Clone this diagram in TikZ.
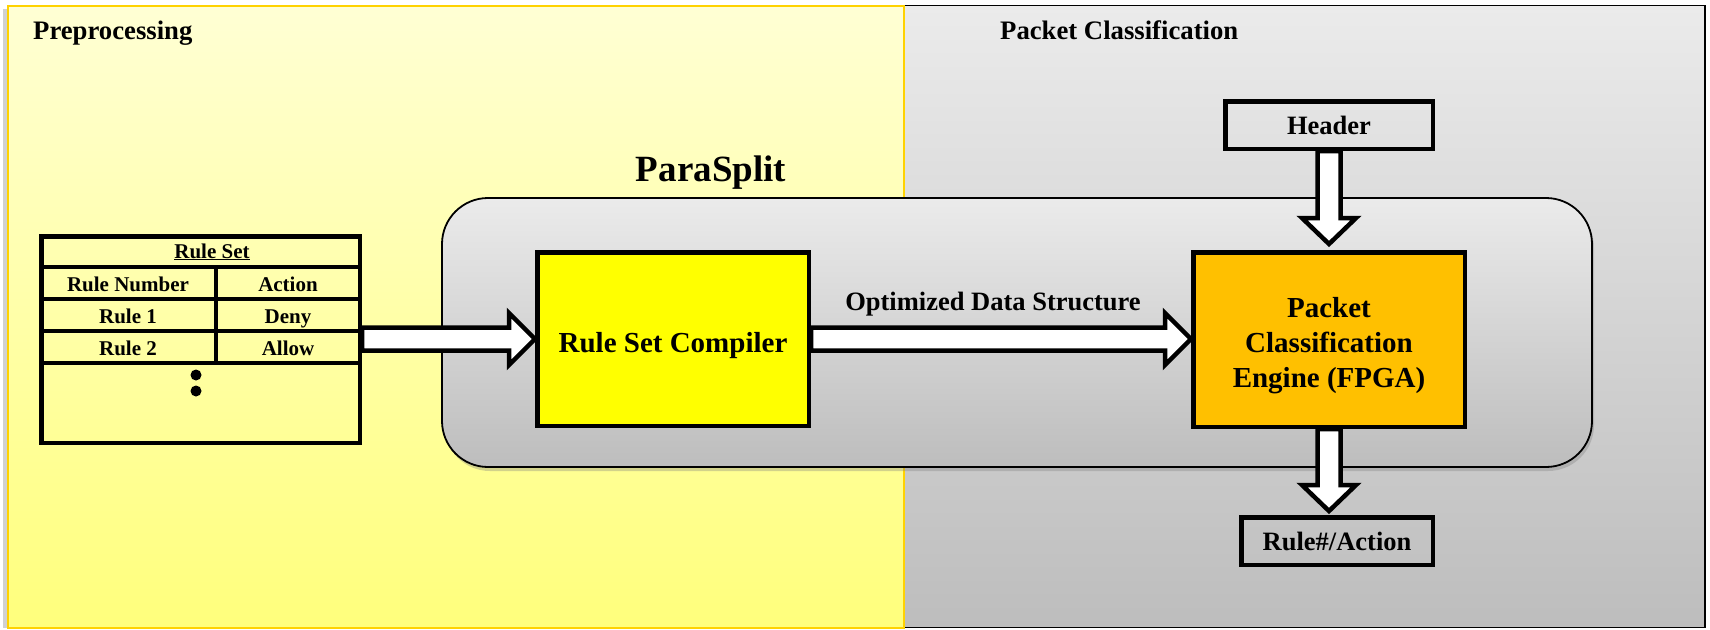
\documentclass[tikz,border=0pt]{standalone}
\usepackage{fontspec}
\setmainfont{Liberation Serif}
\usetikzlibrary{calc,shadows}
\definecolor{ytop}{HTML}{FFFFD4}
\definecolor{ybot}{HTML}{FFFF7C}
\definecolor{gtop}{HTML}{EBEBEB}
\definecolor{gbot}{HTML}{BDBDBD}
\definecolor{goldline}{HTML}{FFD200}
\definecolor{amber}{HTML}{FFC000}
\definecolor{brightyellow}{HTML}{FFFF00}
\pgfdeclarelayer{bglayer}
\pgfdeclarelayer{arrlayer}
\pgfsetlayers{bglayer,arrlayer,main}
\newcommand{\mytitlefont}{\fontsize{26.7pt}{32pt}\selectfont\bfseries}
\newcommand{\mypsfont}{\fontsize{37pt}{44pt}\selectfont\bfseries}
\newcommand{\myboxfont}{\fontsize{29pt}{35pt}\selectfont\bfseries}
\newcommand{\mylblfont}{\fontsize{26.5pt}{32pt}\selectfont\bfseries}
\newcommand{\mytblfont}{\fontsize{21pt}{25pt}\selectfont\bfseries}
% horizontal block arrow from #1 to #2, tip shifted by #3 (pt, towards left when positive)
\newcommand{\myharrow}[3]{%
  \draw[blockarrow] let \p1=(#1), \p2=(#2) in
    (\x1,{\y1+11.5pt}) -- ({\x2-#3-26pt},{\y1+11.5pt}) -- ({\x2-#3-26pt},{\y1+26pt})
    -- ({\x2-#3},\y1) -- ({\x2-#3-26pt},{\y1-26pt}) -- ({\x2-#3-26pt},{\y1-11.5pt})
    -- (\x1,{\y1-11.5pt}) -- cycle;}
% vertical (downward) block arrow from #1 to #2, tip raised by #3
\newcommand{\myvarrow}[3]{%
  \draw[blockarrow] let \p1=(#1), \p2=(#2) in
    ({\x1-11.5pt},\y1) -- ({\x1-11.5pt},{\y2+#3+26pt}) -- ({\x1-27pt},{\y2+#3+26pt})
    -- (\x1,{\y2+#3}) -- ({\x1+27pt},{\y2+#3+26pt}) -- ({\x1+11.5pt},{\y2+#3+26pt})
    -- ({\x1+11.5pt},\y1) -- cycle;}
\tikzset{
  thickbox/.style={draw=black, line width=4.5pt, inner sep=0pt},
  blockarrow/.style={draw=black, fill=white, line width=4.5pt, line join=miter},
  tline/.style={draw=black, line width=4.5pt},
  txt/.style={inner sep=0pt, anchor=base},
  tbltxt/.style={txt, font=\mytblfont},
  lbltxt/.style={font=\mylblfont, inner sep=0pt},
}
\begin{document}
\begin{tikzpicture}[x=1pt,y=-1pt]
\useasboundingbox (0,0) rectangle (1710,629);

\begin{pgfonlayer}{bglayer}
  \fill[white] (0,0) rectangle (1710,629);
  % panels
  \node[draw=black, line width=1.8pt, top color=gtop, bottom color=gbot,
        minimum width=801pt, minimum height=622pt, inner sep=0pt] (clspanel) at (1304.5,316.5) {};
  \fill[black!18] (3,9) rectangle (8,628);
  \node[draw=goldline, line width=2pt, top color=ytop, bottom color=ybot,
        minimum width=896pt, minimum height=622pt, inner sep=0pt] (prepanel) at (456,316.5) {};
  \node[font=\mytitlefont, inner sep=0pt, anchor=base west] (pretitle) at (33,39) {Preprocessing};
  \node[font=\mytitlefont, inner sep=0pt, anchor=base west] (clstitle) at (1000,39) {Packet Classification};
  % ParaSplit container
  \node[draw=black, line width=1.8pt, rounded corners=46pt, top color=gtop, bottom color=gbot,
        minimum width=1150pt, minimum height=269pt, inner sep=0pt,
        drop shadow={shadow xshift=2pt, shadow yshift=-4pt, opacity=0.35}] (ps) at (1017,332.5) {};
  \node[font=\mypsfont, txt] (pstitle) at (711,181) {ParaSplit};
\end{pgfonlayer}

% boxes
\node[thickbox, minimum width=318.5pt, minimum height=206.5pt] (tbl) at (200.5,339.5) {};
\node[thickbox, fill=brightyellow, minimum width=271.5pt, minimum height=173.5pt] (comp) at (673,339) {};
\node[thickbox, fill=amber, minimum width=271.5pt, minimum height=174.5pt] (eng) at (1329,339.5) {};
\node[thickbox, lbltxt, minimum width=207.5pt, minimum height=47.5pt] (hdr) at (1329,125) {Header};
\node[thickbox, lbltxt, minimum width=191.5pt, minimum height=47.5pt] (res) at (1337,541) {Rule\#/Action};

% box texts
\node[txt, font=\myboxfont] (comptxt) at (673,352) {Rule Set Compiler};
\node[font=\myboxfont, align=center, inner sep=0pt] (engtxt) at (1329,345.5) {Packet\\Classification\\Engine (FPGA)};
\node[txt, font=\mylblfont] (optlbl) at (993,310) {Optimized Data Structure};

% table grid
\draw[tline] (41,267) -- (360,267);
\draw[tline] (41,299) -- (360,299);
\draw[tline] (41,331) -- (360,331);
\draw[tline] (41,363) -- (360,363);
\draw[tline] (216,267) -- (216,363);
\node[tbltxt] (rshead) at (212,258) {\underline{Rule Set}};
\node[tbltxt] (c11) at (128,291) {Rule Number};
\node[tbltxt] (c12) at (288,291) {Action};
\node[tbltxt] (c21) at (128,323) {Rule 1};
\node[tbltxt] (c22) at (288,323) {Deny};
\node[tbltxt] (c31) at (128,355) {Rule 2};
\node[tbltxt] (c32) at (288,355) {Allow};
\node[circle, fill=black, inner sep=0pt, minimum size=11pt] (dot1) at (196,375) {};
\node[circle, fill=black, inner sep=0pt, minimum size=11pt] (dot2) at (196,391) {};

% block arrows
\begin{pgfonlayer}{arrlayer}
  \myharrow{tbl.east |- comp.west}{comp.west}{0pt}
  \myharrow{comp.east}{eng.west}{0pt}
  \myvarrow{hdr.south}{eng.north}{6pt}
  \myvarrow{eng.south}{res.north}{4pt}
\end{pgfonlayer}
\end{tikzpicture}
\end{document}
